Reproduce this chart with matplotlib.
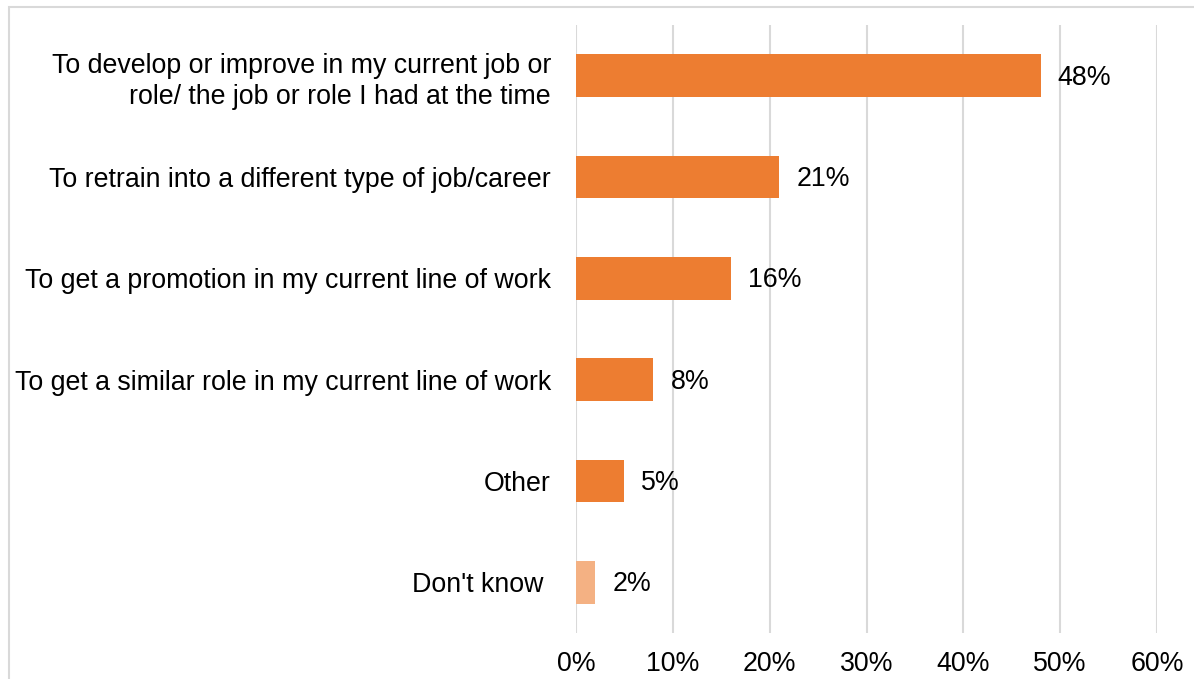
import matplotlib
matplotlib.use('Agg')
import matplotlib.pyplot as plt
from matplotlib.patches import Rectangle

plt.rcParams['font.family'] = ['Liberation Sans', 'DejaVu Sans']

# ── Data ──────────────────────────────────────────────
categories = [
    'To develop or improve in my current job or\nrole/ the job or role I had at the time',
    'To retrain into a different type of job/career',
    'To get a promotion in my current line of work',
    'To get a similar role in my current line of work',
    'Other',
    "Don't know ",
]
values = [48, 21, 16, 8, 5, 2]
bar_colors = ['#ED7D31', '#ED7D31', '#ED7D31', '#ED7D31', '#ED7D31', '#F4B183']
xticks = [0, 10, 20, 30, 40, 50, 60]

FS = 19.3

fig = plt.figure(figsize=(11.94, 6.79), dpi=100)
ax = fig.add_axes([576 / 1194, 1 - 633 / 679, (1157 - 576) / 1194, (633 - 25) / 679])

y = list(range(len(categories)))
ax.barh(y, values, height=0.42, color=bar_colors, zorder=3)

for yi, v in zip(y, values):
    ax.text(v + 1.75, yi + 0.02, f'{v}%', va='center', ha='left', fontsize=FS, zorder=4)

ax.set_xlim(0, 60)
ax.set_ylim(len(categories) - 0.5, -0.5)
ax.set_xticks(xticks)
ax.set_xticklabels([f'{t}%' for t in xticks], fontsize=FS)
ax.set_yticks(y)
ax.set_yticklabels(categories, fontsize=FS, linespacing=1.27)
ax.tick_params(axis='both', length=0)
ax.tick_params(axis='y', pad=18)
ax.tick_params(axis='x', pad=13)
ax.grid(True, axis='x', color='#d9d9d9', linewidth=1.5, zorder=0)
for s in ax.spines.values():
    s.set_visible(False)

# chart frame
fig.patches.append(Rectangle((9 / 1194, -0.05), 1.2, 1 - 7 / 679 + 0.05,
                             transform=fig.transFigure, fill=False,
                             edgecolor='#d9d9d9', linewidth=1.5))

fig.savefig('out.png', dpi=100)
